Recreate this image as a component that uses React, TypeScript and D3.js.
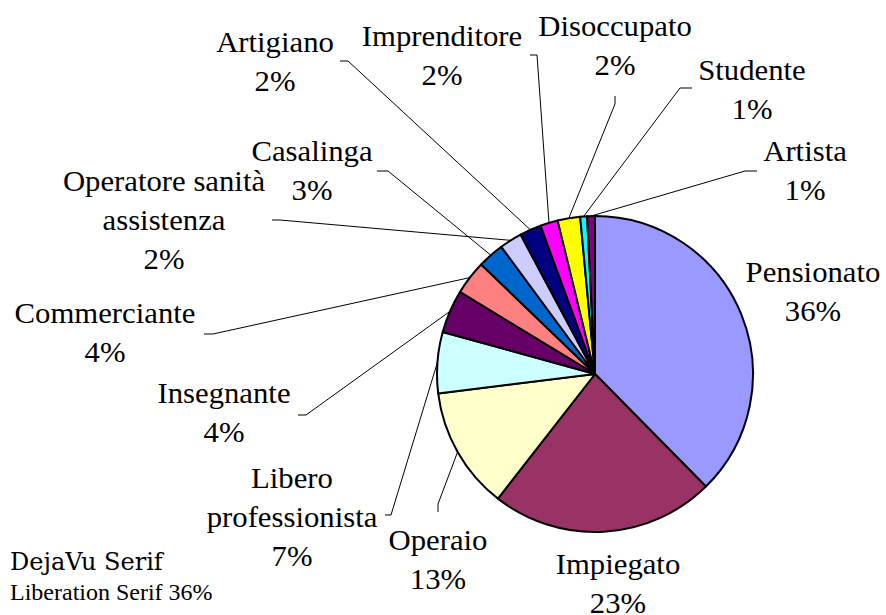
import React from 'react';
import * as d3 from 'd3';

// slices clockwise from 12 o'clock
const categories = [
  'Pensionato', 'Impiegato', 'Operaio', 'Libero professionista', 'Insegnante',
  'Commerciante', 'Casalinga', 'Operatore sanità assistenza', 'Artigiano',
  'Imprenditore', 'Disoccupato', 'Studente', 'Artista',
];
const shares = [37.6, 22.9, 12.5, 6.25, 4.4, 3.5, 2.7, 2.3, 2.2, 1.8, 2.3, 0.7, 0.8];
const pctLabels = ['36%', '23%', '13%', '7%', '4%', '4%', '3%', '2%', '2%', '2%', '2%', '1%', '1%'];
const colors = [
  '#9999FF', '#993366', '#FFFFCC', '#CCFFFF', '#660066', '#FF8080', '#0066CC',
  '#CCCCFF', '#000080', '#FF00FF', '#FFFF00', '#00FFFF', '#800080',
];
const nameLines: Record<string, string[]> = {
  'Libero professionista': ['Libero', 'professionista'],
  'Operatore sanità assistenza': ['Operatore sanità', 'assistenza'],
};

// label layout: centre x, first baseline y
const labelPos: [number, number][] = [
  [813, 282], [618, 574], [438, 550], [292, 488], [224, 403], [105, 323],
  [312, 161], [164, 191], [275, 52], [442, 46], [615, 36], [752, 80], [805, 161],
];
// leader stub near the label (outer point, inner point), then straight to the slice
const stubs: ([number, number][] | null)[] = [
  null, null,
  [[438, 512], [438, 504]],
  [[385, 515], [391, 515]],
  [[298, 415], [306, 415]],
  [[204, 334], [213, 334]],
  [[377, 171], [388, 171]],
  [[272, 220], [280, 220]],
  [[340, 61], [348, 61]],
  [[530, 55], [537, 55]],
  [[615, 96], [615, 104]],
  [[692, 88], [680, 88]],
  [[757, 171], [745, 171]],
];

const W = 886;
const H = 615;
const cx = 595;
const cy = 374;
const R = 158;
const lineH = 39;
const sx = 1.28;
const sy = 1.25;

export default function App() {
  const pie = d3.pie<number>().sort(null).value(d => d)(shares);
  const arc = d3.arc<d3.PieArcDatum<number>>().innerRadius(0).outerRadius(R);

  return (
    <svg width={W} height={H} style={{ position: 'absolute', left: 0, top: 0, background: '#fff' }}>
      <g transform={`translate(${cx},${cy})`}>
        {pie.map((d, i) => (
          <path key={categories[i]} d={arc(d) || ''} fill={colors[i]} stroke="#000" strokeWidth={2}
            strokeLinejoin="round" />
        ))}
      </g>
      {pie.map((d, i) => {
        const st = stubs[i];
        if (!st) return null;
        const a = (d.startAngle + d.endAngle) / 2;
        const ex = cx + Math.sin(a) * R;
        const ey = cy - Math.cos(a) * R;
        const pts = [...st, [ex, ey]];
        return (
          <polyline key={'l' + i} points={pts.map(p => p.join(',')).join(' ')}
            fill="none" stroke="#000" strokeWidth={1} />
        );
      })}
      {categories.map((c, i) => {
        const lines = [...(nameLines[c] || [c]), pctLabels[i]];
        const [lx, ly] = labelPos[i];
        return (
          <g key={'t' + i} transform={`translate(${lx},${ly}) scale(${sx},${sy})`}>
            <text textAnchor="middle" fill="#000" style={{ fontFamily: 'Liberation Serif', fontSize: '24px' }}>
              {lines.map((s, j) => (
                <tspan key={j} x={0} y={(j * lineH) / sy}>{s}</tspan>
              ))}
            </text>
          </g>
        );
      })}
      <text x={10} y={600} style={{ fontFamily: 'Liberation Serif', fontSize: '24px' }}>Liberation Serif 36%</text>
      <text x={10} y={570} style={{ fontFamily: 'DejaVu Serif', fontSize: '24px' }}>DejaVu Serif</text>
    </svg>
  );
}
